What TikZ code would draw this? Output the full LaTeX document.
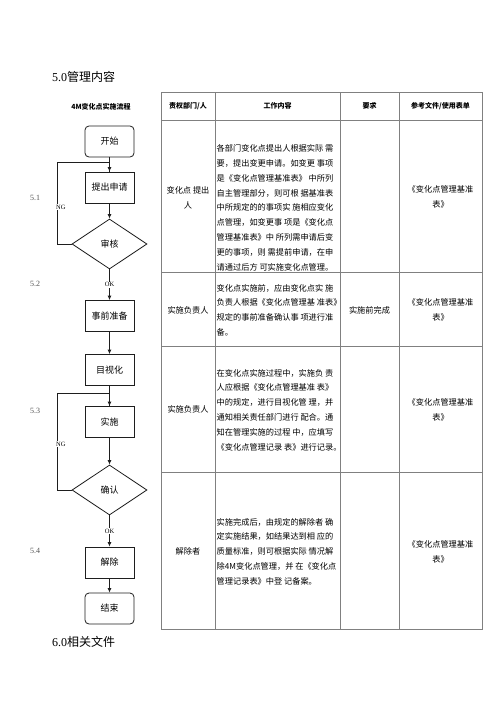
\documentclass[tikz,border=0pt]{standalone}
\usepackage{fontspec}
\setmainfont{Liberation Serif}
\newfontfamily\cjk{Noto Sans CJK SC}
\usepackage{tikz}
\usetikzlibrary{arrows.meta,calc,positioning,shapes.geometric}
\definecolor{flowline}{HTML}{1E1E1E}
\definecolor{tabline}{HTML}{808080}
\definecolor{stepgray}{HTML}{555555}
\tikzset{%
  flowbox/.style={%
    draw=flowline,
    fill=white,
    line width=0.8pt,
    minimum width=49pt,
    minimum height=31pt,
    inner sep=1pt,
    align=center,
    font=\cjk\fontsize{9}{11}\selectfont
  },
  flowround/.style={%
    flowbox,
    rounded corners=4pt
  },
  flowdecision/.style={%
    diamond,
    draw=flowline,
    fill=white,
    line width=0.8pt,
    minimum width=75pt,
    minimum height=50pt,
    inner sep=0pt,
    align=center,
    font=\cjk\fontsize{9}{11}\selectfont
  },
  flowarrow/.style={-{Latex[length=4.5pt,width=4pt]},line width=0.8pt,draw=flowline},
  flowplain/.style={line width=0.8pt,draw=flowline},
  flowtag/.style={fill=white,inner sep=1pt,font=\fontsize{6.5}{7}\selectfont},
  steptag/.style={text=stepgray,inner sep=0pt,font=\fontsize{8}{9}\selectfont},
  tabgrid/.style={draw=tabline,line width=0.8pt},
  tabhead/.style={inner sep=0pt,align=center,font=\cjk\bfseries\fontsize{7}{8}\selectfont},
  tabcell/.style={inner sep=0pt,align=center,font=\cjk\fontsize{8.2}{15}\selectfont},
  tabtext/.style={inner sep=0pt,align=left,anchor=north west,font=\cjk\fontsize{8.2}{14.8}\selectfont},
  sectitle/.style={inner sep=0pt,anchor=west,font=\fontsize{12}{14}\selectfont}
}
\begin{document}
\begin{tikzpicture}[x=1pt,y=-1pt]
    \useasboundingbox[fill=white] (0,0) rectangle (500,707);

    % titles
    \node[sectitle] (title5) at (52,77) {5.0{\cjk 管理内容}};
    \node[sectitle] (title6) at (52,642) {6.0{\cjk 相关文件}};
    \node[tabhead] (flowhead) at (101,107) {4M变化点实施流程};

    % table grid
    \draw[tabgrid] (161,92) rectangle (482,629);
    \foreach \y in {120,272,346,472}
      \draw[tabgrid] (161,\y) -- (482,\y);
    \foreach \x in {215,340,399}
      \draw[tabgrid] (\x,92) -- (\x,629);

    % table header
    \node[tabhead] (hdept) at (188,106) {责权部门/人};
    \node[tabhead] (hwork) at (277.5,106) {工作内容};
    \node[tabhead] (hneed) at (369.5,106) {要求};
    \node[tabhead] (hdoc) at (440.5,106) {参考文件/使用表单};

    % row 1
    \node[tabcell] (deptA) at (188,198) {变化点 提出\\人};
    \node[tabtext] (workA) at (216.5,144.5) {各部门变化点提出人根据实际 需\\要，提出变更申请。如变更 事项\\是《变化点管理基准表》 中所列\\自主管理部分，则可根 据基准表\\中所规定的的事项实 施相应变化\\点管理，如变更事 项是《变化点\\管理基准表》中 所列需申请后变\\更的事项，则 需提前申请，在申\\请通过后方 可实施变化点管理。};
    \node[tabcell] (docA) at (440.5,197) {《变化点管理基准\\表》};

    % row 2
    \node[tabcell] (deptB) at (188,310) {实施负责人};
    \node[tabtext] (workB) at (216.5,284) {变化点实施前，应由变化点实 施\\负责人根据《变化点管理基 准表》\\规定的事前准备确认事 项进行准\\备。};
    \node[tabcell] (needB) at (369.5,310) {实施前完成};
    \node[tabcell] (docB) at (440.5,310) {《变化点管理基准\\表》};

    % row 3
    \node[tabcell] (deptC) at (188,409) {实施负责人};
    \node[tabtext] (workC) at (216.5,369) {在变化点实施过程中，实施负 责\\人应根据《变化点管理基准 表》\\中的规定，进行目视化管 理，并\\通知相关责任部门进行 配合。通\\知在管理实施的过程 中，应填写\\《变化点管理记录 表》进行记录。};
    \node[tabcell] (docC) at (440.5,410) {《变化点管理基准\\表》};

    % row 4
    \node[tabcell] (deptD) at (188,551) {解除者};
    \node[tabtext] (workD) at (216.5,518) {实施完成后，由规定的解除者 确\\定实施结果，如结果达到相 应的\\质量标准，则可根据实际 情况解\\除4M变化点管理，并 在《变化点\\管理记录表》中登 记备案。};
    \node[tabcell] (docD) at (440.5,552) {《变化点管理基准\\表》};

    % flow chart
    \node[flowround] (start) at (109.5,141.5) {开始};
    \node[flowbox] (apply) at (109.5,187.5) {提出申请};
    \node[flowdecision] (review) at (109.5,244) {审核};
    \node[flowbox] (prepare) at (109.5,316) {事前准备};
    \node[flowbox] (visual) at (109.5,370) {目视化};
    \node[flowbox] (execute) at (109.5,422) {实施};
    \node[flowdecision] (confirm) at (109.5,490) {确认};
    \node[flowbox] (release) at (109.5,562.5) {解除};
    \node[flowround] (finish) at (109.5,608.5) {结束};

    \coordinate (loopA) at (57,162);
    \coordinate (loopB) at (57,393);

    \draw[flowarrow] (start) -- (apply);
    \draw[flowarrow] (apply) -- (review);
    \draw[flowarrow] (review) -- node[flowtag] (okA) {OK} (prepare);
    \draw[flowarrow] (prepare) -- (visual);
    \draw[flowarrow] (visual) -- (execute);
    \draw[flowarrow] (execute) -- (confirm);
    \draw[flowarrow] (confirm) -- node[flowtag] (okB) {OK} (release);
    \draw[flowarrow] (release) -- (finish);

    % NG loops
    \draw[flowplain] (review.west) -| (loopA) -| (apply.north);
    \draw[flowplain] (confirm.west) -| (loopB) -| (execute.north);
    \node[flowtag,anchor=west] (ngA) at (55,207) {NG};
    \node[flowtag,anchor=west] (ngB) at (55,444) {NG};

    % step numbers
    \node[steptag] (stepA) at (35,198) {5.1};
    \node[steptag] (stepB) at (35,284) {5.2};
    \node[steptag] (stepC) at (35,411) {5.3};
    \node[steptag] (stepD) at (35,551) {5.4};
\end{tikzpicture}
\end{document}
